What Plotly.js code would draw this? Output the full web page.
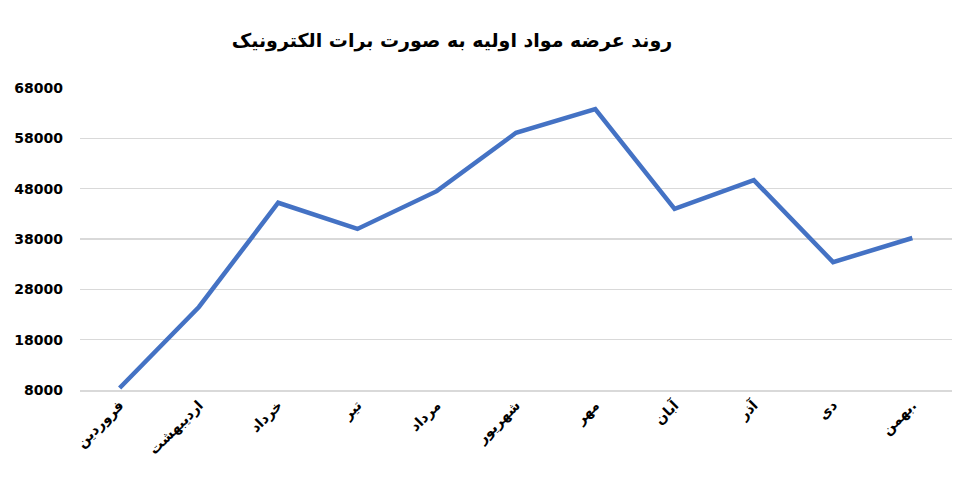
<!DOCTYPE html>
<html>
<head>
<meta charset="utf-8">
<script src="https://cdn.plot.ly/plotly-3.0.1.min.js"></script>
<style>html,body{margin:0;padding:0;background:#fff;}#chart{width:975px;height:492px;}</style>
</head>
<body>
<div id="chart"></div>
<script>
const months = ["فروردین","اردیبهشت","خرداد","تیر","مرداد","شهریور","مهر","آبان","آذر","دی","بهمن."];
const values = [8400, 24500, 45200, 40000, 47500, 59100, 63800, 44000, 49700, 33400, 38200];
const yTicks = [8000, 18000, 28000, 38000, 48000, 58000, 68000];
const chartTitle = "روند عرضه مواد اولیه به صورت برات الکترونیک";

Plotly.newPlot("chart", [{
  type: "scatter",
  mode: "lines",
  x: months,
  y: values,
  line: {color: "#4472C4", width: 4.5},
  hoverinfo: "x+y"
}], {
  width: 975, height: 492,
  margin: {l: 80, r: 23, t: 88, b: 102},
  paper_bgcolor: "#fff", plot_bgcolor: "#fff",
  showlegend: false,
  font: {family: "DejaVu Sans, Noto Sans, sans-serif", color: "#000"},
  title: {text: "<b>" + chartTitle + "</b>", x: 452/975, xanchor: "center", xref: "container", y: 1 - 40/492, yref: "container", yanchor: "middle", font: {size: 19, family: "DejaVu Sans, sans-serif", color: "#000"}},
  xaxis: {
    type: "category",
    range: [-0.5, 10.5],
    tickangle: -45,
    showgrid: false,
    showline: true, linecolor: "#d9d9d9", linewidth: 1.5,
    ticks: "",
    tickfont: {size: 14, family: "DejaVu Sans, sans-serif", color: "#000", weight: "bold"},
    zeroline: false
  },
  yaxis: {
    range: [8000, 68000],
    tickvals: yTicks,
    ticktext: yTicks.map(String),
    showgrid: true, gridcolor: "#d9d9d9", gridwidth: 1.2,
    showline: false, zeroline: false,
    ticks: "",
    ticklabelstandoff: 16,
    tickfont: {size: 14, family: "DejaVu Sans, sans-serif", color: "#000", weight: "bold"}
  }
}, {displayModeBar: false, staticPlot: true});
</script>
</body>
</html>
